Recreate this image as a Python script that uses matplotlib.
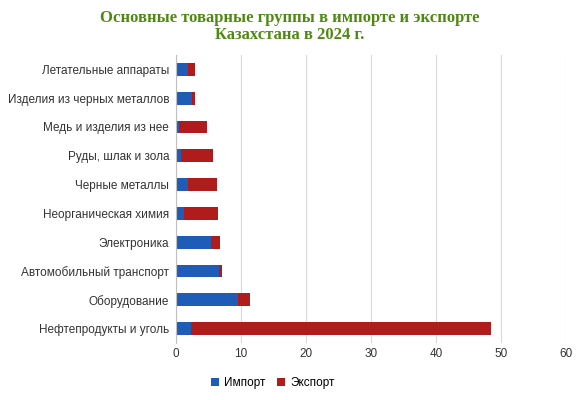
import matplotlib
matplotlib.use("Agg")
import matplotlib.pyplot as plt
import numpy as np

categories = ["Нефтепродукты и уголь", "Оборудование", "Автомобильный транспорт",
              "Электроника", "Неорганическая химия", "Черные металлы",
              "Руды, шлак и зола", "Медь и изделия из нее",
              "Изделия из черных металлов", "Летательные аппараты"]
imports = [2.3, 9.5, 6.6, 5.4, 1.2, 1.8, 0.8, 0.5, 2.5, 1.8]
exports = [46.2, 1.9, 0.4, 1.4, 5.3, 4.5, 4.9, 4.3, 0.4, 1.1]

plt.rcParams["font.family"] = ["Liberation Sans", "DejaVu Sans"]
fig = plt.figure(figsize=(5.8, 4.0), dpi=100)
ax = fig.add_axes([176 / 580, 1 - 343 / 400, 390 / 580, 288 / 400])

y = np.arange(len(categories))
ax.barh(y, imports, height=0.45, color="#1f5cb8", label="Импорт")
ax.barh(y, exports, left=imports, height=0.45, color="#b01c1c", label="Экспорт")

ax.set_xlim(0, 60)
ax.set_ylim(-0.5, len(categories) - 0.5)
ax.set_yticks(y)
ax.set_yticklabels(categories, fontsize=8.5, color="#333333")
ax.set_xticks(range(0, 61, 10))
ax.tick_params(axis="x", labelsize=8.5, colors="#333333", length=0)
ax.tick_params(axis="y", length=0, pad=5)
ax.grid(axis="x", color="#d9d9d9", linewidth=0.8)
ax.set_axisbelow(True)
for s in ["top", "right", "bottom"]:
    ax.spines[s].set_visible(False)
ax.spines["left"].set_color("#bfbfbf")

fig.text(0.5, 0.975, "Основные товарные группы в импорте и экспорте\nКазахстана в 2024 г.",
         ha="center", va="top", fontsize=12, fontweight="bold", color="#4f8a10",
         linespacing=1.05, family=["Liberation Serif", "DejaVu Serif"])
fig.legend(loc="lower center", bbox_to_anchor=(0.47, 0.0), ncol=2, frameon=False,
           fontsize=8.5, handlelength=0.7, handleheight=0.7, columnspacing=1.0,
           handletextpad=0.4)

fig.savefig("out.png", dpi=100)
